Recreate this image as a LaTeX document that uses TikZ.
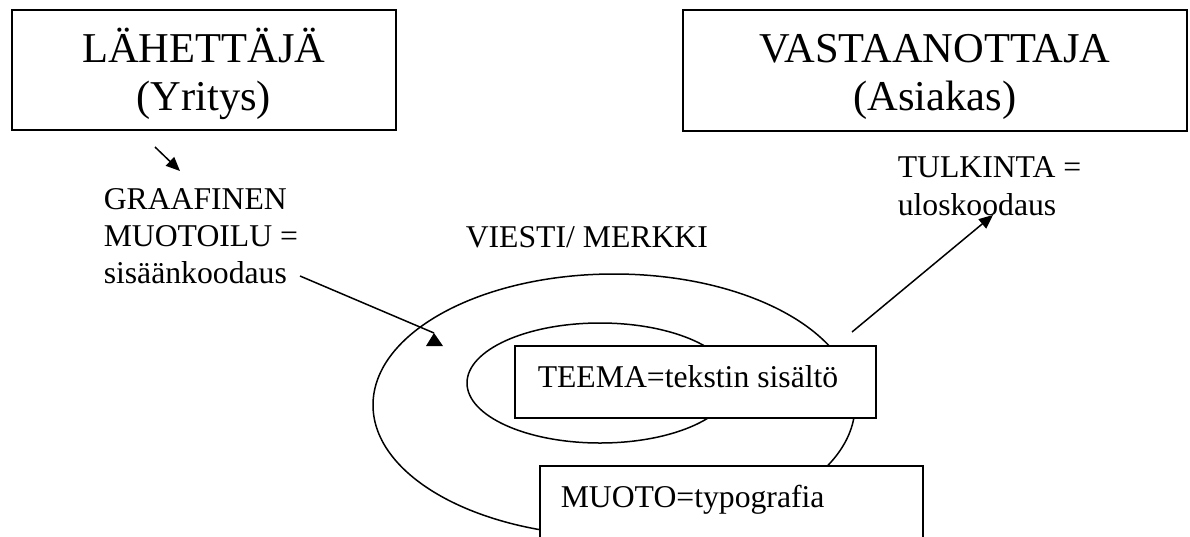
\documentclass[tikz,border=0pt]{standalone}
\usepackage{fontspec}
\setmainfont{Liberation Serif}
\usetikzlibrary{arrows.meta}
\begin{document}
\begin{tikzpicture}[x=1pt, y=-1pt, line width=1.5pt,
  bigtxt/.style={font=\fontsize{42.5}{48}\selectfont, anchor=base, inner sep=0pt},
  smalltxt/.style={font=\fontsize{31.7}{37}\selectfont, anchor=base west, inner sep=0pt},
  frame/.style={draw, fill=white, rectangle, inner sep=0pt, line width=1.8pt},
  arrow/.style={-{Triangle[length=14pt,width=12pt]}, line width=1.5pt}]
\useasboundingbox (0,0) rectangle (1190,536);
\begin{scope}
\clip (0,0) rectangle (1190,536);

% sender and receiver
\node[frame, minimum width=384pt, minimum height=120pt] (sender) at (203.7,70) {};
\node[bigtxt] (sendA) at (203.7,62) {LÄHETTÄJÄ};
\node[bigtxt] (sendB) at (203.7,110) {(Yritys)};

\node[frame, minimum width=504pt, minimum height=121pt] (receiver) at (935,70.5) {};
\node[bigtxt] (recA) at (935,62) {VASTAANOTTAJA};
\node[bigtxt] (recB) at (935,110) {(Asiakas)};

% encoding text
\node[smalltxt] (encA) at (103,209) {GRAAFINEN};
\node[smalltxt] (encB) at (103,246) {MUOTOILU =};
\node[smalltxt] (encC) at (103,283) {sisäänkoodaus};

\node[smalltxt] (msg) at (465,247) {VIESTI/ MERKKI};

\node[smalltxt] (decA) at (897,177) {TULKINTA =};
\node[smalltxt] (decB) at (897,215) {uloskoodaus};

% message: outer form and inner theme
\draw (614,405) ellipse [x radius=241pt, y radius=131pt];
\draw (600,383) ellipse [x radius=133pt, y radius=60pt];

\node[frame, minimum width=361pt, minimum height=72pt] (theme) at (695.5,382) {};
\node[smalltxt] (themeT) at (537,387) {TEEMA=tekstin sisältö};

\node[frame, minimum width=383pt, minimum height=120pt] (form) at (731.5,526) {};
\node[smalltxt] (formT) at (560,507) {MUOTO=typografia};

% connectors
\coordinate (a1s) at (155,147);
\coordinate (a1e) at (180,171);
\draw[arrow] (a1s) -- (a1e);

\coordinate (a2s) at (300,276);
\coordinate (a2e) at (434,333);
\draw (a2s) -- (a2e);
\fill (a2e) -- ++(-8,13) -- ++(17,0) -- cycle;

\coordinate (a3s) at (852,332);
\coordinate (a3e) at (993,215);
\draw[arrow] (a3s) -- (a3e);
\end{scope}
\end{tikzpicture}
\end{document}
